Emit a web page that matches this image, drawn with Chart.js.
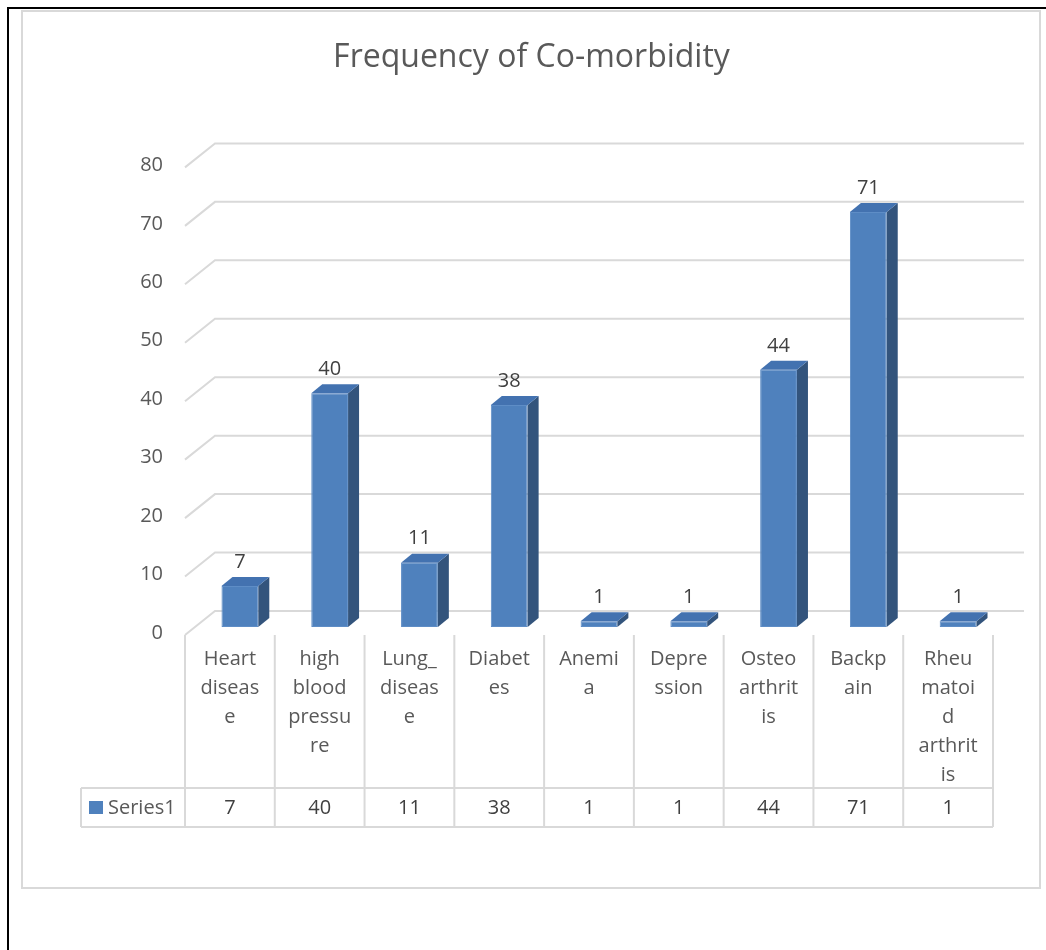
<!DOCTYPE html>
<html>
<head>
<meta charset="utf-8">
<title>Frequency of Co-morbidity</title>
<script src="https://cdn.jsdelivr.net/npm/chart.js@4.4.1/dist/chart.umd.min.js"></script>
<style>
  html, body { margin: 0; padding: 0; background: #ffffff; }
  #wrap { position: relative; width: 1046px; height: 950px; overflow: hidden; }
  #sheetTop { position: absolute; left: 7px; top: 7px; width: 1039px; height: 0; border-top: 2px solid #000; }
  #sheetLeft { position: absolute; left: 7px; top: 7px; width: 0; height: 943px; border-left: 2px solid #000; }
  #frame { position: absolute; left: 21px; top: 10px; width: 1016px; height: 875px; border: 2px solid #d9d9d9; }
  #chart { position: absolute; left: 0; top: 0; }
</style>
</head>
<body>
<div id="wrap">
  <div id="sheetTop"></div>
  <div id="sheetLeft"></div>
  <div id="frame"></div>
  <canvas id="chart" width="1046" height="950"></canvas>
</div>
<script>
// Category names, wrapped the way they appear in the data-table cells
const categories = [
  ["Heart", "diseas", "e"],
  ["high", "blood", "pressu", "re"],
  ["Lung_", "diseas", "e"],
  ["Diabet", "es"],
  ["Anemi", "a"],
  ["Depre", "ssion"],
  ["Osteo", "arthrit", "is"],
  ["Backp", "ain"],
  ["Rheu", "matoi", "d", "arthrit", "is"]
];
const seriesName = "Series1";
const seriesValues = [7, 40, 11, 38, 1, 1, 44, 71, 1];
const yTickValues = [0, 10, 20, 30, 40, 50, 60, 70, 80];

const FONT = "'Open Sans', 'Noto Sans', sans-serif";
const TEXT_GRAY = "#595959";
const VALUE_GRAY = "#404040";
const GRID = "#d9d9d9";
const BAR_FRONT = "#4f81bd";
const BAR_TOP = "#4372b0";
const BAR_SIDE = "#33547c";

// Oblique projection offsets relative to the plane the bar fronts sit in
const FRONT = { dx: -10, dy: 8 };
const BACK = { dx: 20, dy: -16 };
const DEPTH = { dx: 11, dy: -9 };

// Data-table rows under the plot
const TABLE = { firstLine: 659, lineStep: 29, rowTop: 788, rowBottom: 827, valueY: 808, left: 81 };

function cellEdges(chart) {
  const x = chart.scales.x;
  const { left, right } = chart.chartArea;
  const n = chart.data.labels.length;
  const edges = [left];
  for (let i = 0; i < n - 1; i++) {
    edges.push((x.getPixelForValue(i) + x.getPixelForValue(i + 1)) / 2);
  }
  edges.push(right);
  return edges.map(e => e + FRONT.dx);
}

const depthPlugin = {
  id: 'depth3d',
  beforeDatasetsDraw(chart) {
    const { ctx, chartArea, scales } = chart;
    const y = scales.y;
    ctx.save();

    // floor/back-wall gridlines
    ctx.strokeStyle = GRID;
    ctx.lineWidth = 2;
    y.ticks.forEach(t => {
      const py = y.getPixelForValue(t.value);
      ctx.beginPath();
      ctx.moveTo(chartArea.left + FRONT.dx, py + FRONT.dy);
      ctx.lineTo(chartArea.left + BACK.dx, py + BACK.dy);
      ctx.lineTo(chartArea.right + BACK.dx + 1, py + BACK.dy);
      ctx.stroke();
    });

    // value axis labels
    ctx.fillStyle = TEXT_GRAY;
    ctx.font = "20px " + FONT;
    ctx.textAlign = "right";
    ctx.textBaseline = "middle";
    y.ticks.forEach(t => {
      const py = y.getPixelForValue(t.value) + FRONT.dy - 2;
      ctx.fillText(String(t.value), chartArea.left - 32, py);
    });

    // data table grid
    const edges = cellEdges(chart);
    const floorY = y.getPixelForValue(0) + FRONT.dy;
    ctx.strokeStyle = GRID;
    ctx.lineWidth = 2;
    ctx.beginPath();
    edges.forEach(ex => {
      ctx.moveTo(ex, floorY);
      ctx.lineTo(ex, TABLE.rowBottom);
    });
    ctx.moveTo(TABLE.left, TABLE.rowTop);
    ctx.lineTo(edges[edges.length - 1], TABLE.rowTop);
    ctx.moveTo(TABLE.left, TABLE.rowBottom);
    ctx.lineTo(edges[edges.length - 1], TABLE.rowBottom);
    ctx.moveTo(TABLE.left, TABLE.rowTop);
    ctx.lineTo(TABLE.left, TABLE.rowBottom);
    ctx.stroke();

    // category names and values
    ctx.textAlign = "center";
    ctx.textBaseline = "middle";
    const ds = chart.data.datasets[0];
    chart.data.labels.forEach((lines, i) => {
      const cx = (edges[i] + edges[i + 1]) / 2;
      ctx.fillStyle = TEXT_GRAY;
      lines.forEach((line, k) => {
        ctx.fillText(line, cx, TABLE.firstLine + k * TABLE.lineStep);
      });
      ctx.fillStyle = VALUE_GRAY;
      ctx.fillText(String(ds.data[i]), cx, TABLE.valueY);
    });

    // series key
    ctx.fillStyle = ds.backgroundColor;
    ctx.fillRect(89, 801, 14, 13);
    ctx.fillStyle = TEXT_GRAY;
    ctx.textAlign = "left";
    ctx.fillText(ds.label, 108, TABLE.valueY);

    ctx.restore();
  },
  afterDatasetsDraw(chart) {
    const { ctx } = chart;
    const meta = chart.getDatasetMeta(0);
    const ds = chart.data.datasets[0];
    ctx.save();
    meta.data.forEach((bar, i) => {
      const { x, y, base, width } = bar.getProps(['x', 'y', 'base', 'width'], true);
      const l = x - width / 2, r = x + width / 2;
      // right side face
      ctx.fillStyle = BAR_SIDE;
      ctx.beginPath();
      ctx.moveTo(r, y);
      ctx.lineTo(r + DEPTH.dx, y + DEPTH.dy);
      ctx.lineTo(r + DEPTH.dx, base + DEPTH.dy);
      ctx.lineTo(r, base);
      ctx.closePath();
      ctx.fill();
      // top face
      ctx.fillStyle = BAR_TOP;
      ctx.beginPath();
      ctx.moveTo(l, y);
      ctx.lineTo(r, y);
      ctx.lineTo(r + DEPTH.dx, y + DEPTH.dy);
      ctx.lineTo(l + DEPTH.dx, y + DEPTH.dy);
      ctx.closePath();
      ctx.fill();
      // value label
      ctx.fillStyle = VALUE_GRAY;
      ctx.font = "20px " + FONT;
      ctx.textAlign = "center";
      ctx.textBaseline = "middle";
      ctx.fillText(String(ds.data[i]), x, y - 24);
    });
    ctx.restore();
  }
};

new Chart(document.getElementById('chart'), {
  type: 'bar',
  data: {
    labels: categories,
    datasets: [{
      label: seriesName,
      data: seriesValues,
      backgroundColor: BAR_FRONT,
      borderColor: "#5e8dc6",
      borderWidth: 1,
      borderSkipped: false,
      barPercentage: 1,
      categoryPercentage: 0.41
    }]
  },
  options: {
    responsive: false,
    animation: false,
    events: [],
    layout: { padding: { left: 60, right: 43, top: 0, bottom: 323 } },
    plugins: {
      legend: { display: false },
      tooltip: { enabled: false },
      title: {
        display: true,
        text: "Frequency of Co-morbidity",
        color: TEXT_GRAY,
        font: { family: FONT, size: 32, weight: 'normal' },
        padding: { top: 39, bottom: 82 }
      }
    },
    scales: {
      x: { display: false },
      y: {
        display: true,
        min: yTickValues[0],
        max: yTickValues[yTickValues.length - 1],
        ticks: { display: false, stepSize: yTickValues[1] - yTickValues[0] },
        grid: { display: false },
        border: { display: false },
        afterFit(scale) { scale.width = 135; }
      }
    }
  },
  plugins: [depthPlugin]
});
</script>
</body>
</html>
